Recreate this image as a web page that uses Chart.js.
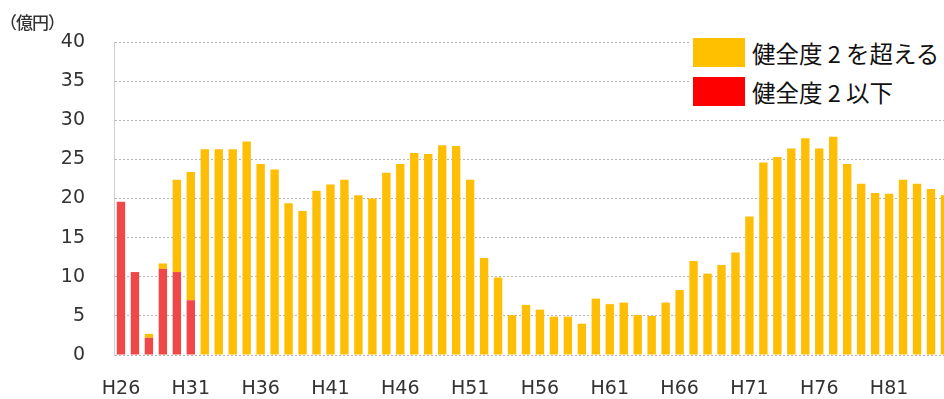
<!DOCTYPE html>
<html lang="ja">
<head>
<meta charset="utf-8">
<script src="https://cdn.jsdelivr.net/npm/chart.js@4"></script>
<style>
  html, body { margin: 0; padding: 0; background: #fff; overflow: hidden; }
  #wrap { position: relative; width: 960px; height: 399px; }
  #unit {
    position: absolute; left: 0; top: 9px;
    font: 500 17px "Noto Sans CJK JP", sans-serif; color: #333; letter-spacing: -1px;
  }
  #legend {
    position: absolute; left: 690px; top: 33px; width: 270px;
    background: #fff; padding: 0 0 2px 3px;
    font: 23.5px "Noto Sans CJK JP", sans-serif; color: #111;
  }
  .row { display: flex; align-items: center; height: 39px; }
  .box { width: 52px; height: 29px; margin-right: 7px; }
</style>
</head>
<body>
<div id="wrap">
  <canvas id="chart" width="960" height="399"></canvas>
  <div id="unit">（億円）</div>
  <div id="legend">
    <div class="row"><span class="box" style="background:#FFC000"></span>健全度 2 を超える</div>
    <div class="row"><span class="box" style="background:#FF0000"></span>健全度 2 以下</div>
  </div>
</div>
<script>
// fiscal years H26 .. H85
const years = Array.from({ length: 60 }, (_, i) => 'H' + (26 + i));

// cost at soundness level 2 or below (only the first years)
const belowTwo = [19.6, 10.6, 2.2, 11.0, 10.6, 7.0];

// cost above soundness level 2
const aboveTwo = [
  0, 0, 0.5, 0.7, 11.8, 16.4,
  26.3, 26.3, 26.3, 27.3, 24.4, 23.7, 19.4, 18.4, 21.0, 21.8,
  22.4, 20.4, 20.0, 23.3, 24.4, 25.8, 25.7, 26.8, 26.7, 22.4,
  12.4, 9.9, 5.1, 6.4, 5.8, 4.9, 4.9, 4.0, 7.2, 6.5,
  6.7, 5.1, 5.0, 6.7, 8.3, 12.0, 10.4, 11.5, 13.1, 17.7,
  24.6, 25.3, 26.4, 27.7, 26.4, 27.9, 24.4, 21.9, 20.7, 20.6,
  22.4, 21.9, 21.2, 20.4
];

const yTicks = [0, 5, 10, 15, 20, 25, 30, 35, 40];

new Chart(document.getElementById('chart'), {
  type: 'bar',
  data: {
    labels: years,
    datasets: [
      { label: '健全度 2 以下', data: belowTwo, backgroundColor: '#F04848' },
      { label: '健全度 2 を超える', data: aboveTwo, backgroundColor: '#FDBE04' }
    ]
  },
  options: {
    responsive: false,
    animation: false,
    events: [],
    layout: { padding: { top: 42, right: 6, left: 0, bottom: 0 } },
    datasets: { bar: { barPercentage: 0.6, categoryPercentage: 1 } },
    plugins: { legend: { display: false }, tooltip: { enabled: false } },
    scales: {
      x: {
        stacked: true,
        grid: { display: false },
        border: { display: false },
        afterFit: s => { s.height = 44; },
        ticks: {
          autoSkip: false,
          maxRotation: 0,
          padding: 15,
          color: '#333',
          font: { family: 'DejaVu Sans', size: 19 },
          callback: (v, i) => (i % 5 === 0 ? years[i] : '')
        }
      },
      y: {
        stacked: true,
        min: 0,
        max: 40,
        afterFit: s => { s.width = 114; },
        afterBuildTicks: s => { s.ticks = yTicks.map(v => ({ value: v })); },
        grid: { color: '#b4b4b4', drawTicks: false },
        border: { display: true, color: '#cfcfcf', dash: [2, 2] },
        ticks: {
          padding: 29,
          color: '#333',
          font: { family: 'DejaVu Sans', size: 19 }
        }
      }
    }
  }
});
</script>
</body>
</html>
